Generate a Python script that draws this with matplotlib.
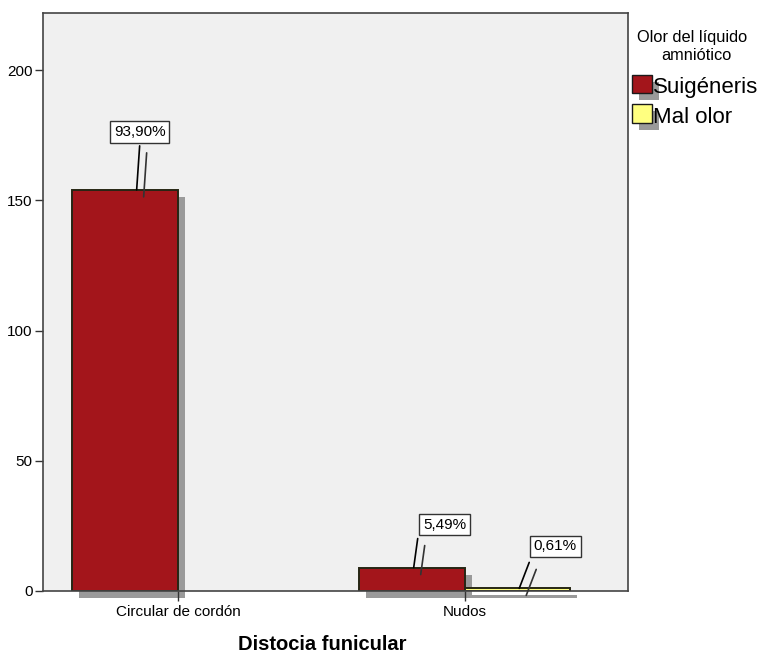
import matplotlib
matplotlib.use('Agg')
import matplotlib.pyplot as plt
from matplotlib.patches import Rectangle
from matplotlib.transforms import offset_copy

plt.rcParams['font.family'] = ['Liberation Sans', 'DejaVu Sans']

# data
categories = ["Circular de cordón", "Nudos"]
series_names = ["Suigéneris", "Mal olor"]
suigeneris = [154, 9]
mal_olor = [0, 1]
pct_suigeneris = ["93,90%", "5,49%"]
pct_mal_olor = [None, "0,61%"]
y_ticks = [0, 50, 100, 150, 200]

# layout (pixels)
W, H = 766, 654
colors = ["#a3151b", "#ffff80"]
shadow_color = "#9a9a9a"
SH = 7  # shadow offset in px
# per label: (base dx, line end dx, line end dy, box dx, box dy)
label_pos = {
    (0, 0): (11.5, 3, 44, 3, 58),
    (0, 1): (1.5, 4, 29, 31, 43),
    (1, 1): (1.5, 10, 26, 36, 42),
}

fig = plt.figure(figsize=(W / 100, H / 100), dpi=100)
ax = fig.add_axes([43 / W, 1 - 591 / H, 585 / W, 578 / H])
ax.set_facecolor('#f0f0f0')

bar_w = 0.3676
shadow_tr = offset_copy(ax.transData, fig=fig, x=SH, y=-SH, units='dots')

series = [suigeneris, mal_olor]
pcts = [pct_suigeneris, pct_mal_olor]
for s, (vals, col) in enumerate(zip(series, colors)):
    off = (s - 0.5) * bar_w
    xs = [i + off for i, v in enumerate(vals) if v > 0]
    hs = [v for v in vals if v > 0]
    ax.bar(xs, hs, width=bar_w, color=shadow_color, edgecolor='none',
           transform=shadow_tr, clip_on=False, zorder=1)
    ax.bar(xs, hs, width=bar_w, color=col, edgecolor='#262614',
           linewidth=1.4, zorder=2)

    for i, v in enumerate(vals):
        lab = pcts[s][i]
        if lab is None:
            continue
        bdx, lx, ly, tx, ty = label_pos[(s, i)]
        xc = i + off
        base = offset_copy(ax.transData, fig=fig, x=bdx, y=0, units='dots')
        base_sh = offset_copy(ax.transData, fig=fig, x=bdx + SH, y=-SH, units='dots')
        ax.annotate('', xy=(xc, v), xycoords=base_sh, xytext=(lx, ly),
                    textcoords='offset pixels', annotation_clip=False,
                    arrowprops=dict(arrowstyle='-', color='#333333', lw=1.2,
                                    shrinkA=0, shrinkB=0), zorder=3)
        ax.annotate('', xy=(xc, v), xycoords=base, xytext=(lx, ly),
                    textcoords='offset pixels', annotation_clip=False,
                    arrowprops=dict(arrowstyle='-', color='black', lw=1.2,
                                    shrinkA=0, shrinkB=0), zorder=3)
        ax.annotate(lab, xy=(xc, v), xycoords=base, xytext=(tx, ty),
                    textcoords='offset pixels', ha='center', va='center',
                    fontsize=11, annotation_clip=False, zorder=4,
                    bbox=dict(boxstyle='square,pad=0.25', fc='white',
                              ec='#333333', lw=1))

ax.set_xlim(-0.470, 1.568)
ax.set_ylim(0, 221.9)
ax.set_xticks(range(len(categories)))
ax.set_xticklabels(categories, fontsize=11)
ax.set_yticks(y_ticks)
ax.set_yticklabels([str(t) for t in y_ticks], fontsize=11)
ax.tick_params(axis='y', length=6, width=1, pad=1.5, color='#333333')
ax.tick_params(axis='x', length=7, width=1, pad=3, color='#333333')
for sp in ax.spines.values():
    sp.set_color('#444444')
    sp.set_linewidth(1.2)

fig.text(322 / W, 1 - 645 / H, 'Distocia funicular', ha='center', va='center',
         fontsize=14.5, fontweight='bold')


def fx(px):
    return px / W


def fy(py):
    return 1 - py / H


# legend
fig.text(fx(692), fy(42), 'Olor del líquido', ha='center', va='baseline', fontsize=11.8)
fig.text(fx(696), fy(60), 'amniótico', ha='center', va='baseline', fontsize=11.8)
legend_rows = [(75, 93), (104, 123)]
for name, col, (top, bot) in zip(series_names, colors, legend_rows):
    fig.add_artist(Rectangle((fx(632 + SH), fy(bot + SH)), 20 / W, (bot - top) / H,
                             transform=fig.transFigure, fc=shadow_color, ec='none'))
    fig.add_artist(Rectangle((fx(632), fy(bot)), 20 / W, (bot - top) / H,
                             transform=fig.transFigure, fc=col, ec='#1a1a1a', lw=1))
    fig.text(fx(653), fy(bot), name, ha='left', va='baseline', fontsize=16)

fig.savefig('out.png', dpi=100)
